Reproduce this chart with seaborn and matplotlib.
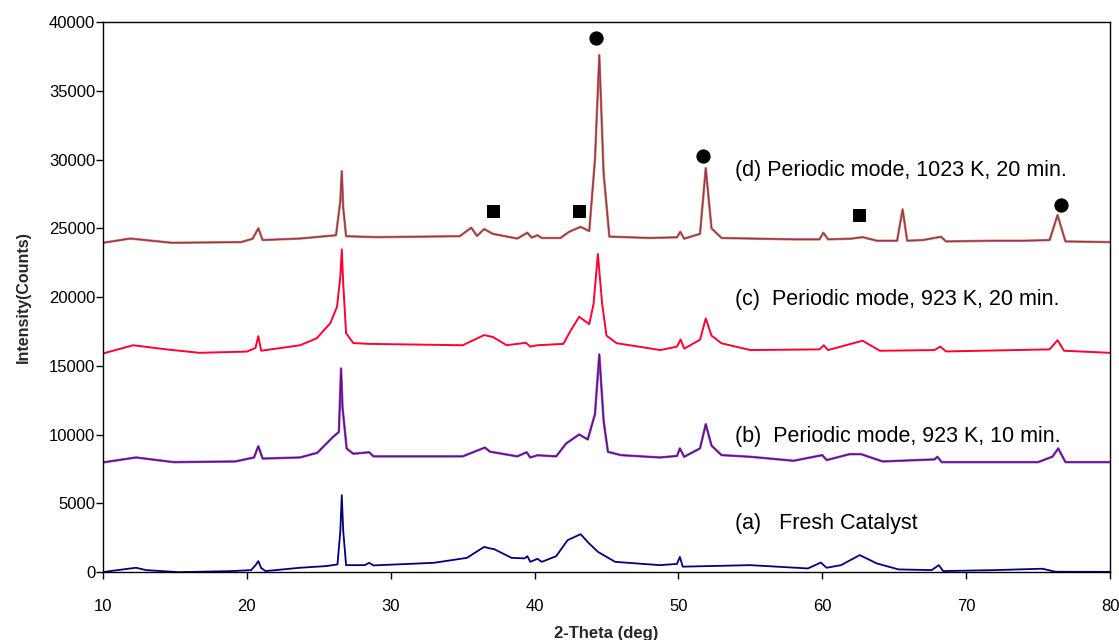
import numpy as np
import pandas as pd
import matplotlib
matplotlib.use("Agg")
import matplotlib.pyplot as plt
import seaborn as sns

# ---------------- data ----------------
a_x = [10.0, 10.5, 12.3, 13.0, 15.3, 19.0, 20.3, 20.6, 20.8, 21.0, 21.3, 23.7, 25.5, 26.3, 26.5,
       26.6, 26.7, 26.9, 28.2, 28.5, 28.8, 33.0, 35.3, 36.5, 36.8, 37.2, 38.4, 39.3, 39.5, 39.7,
       40.2, 40.5, 41.5, 42.3, 43.2, 43.8, 44.4, 45.6, 48.7, 49.9, 50.1, 50.3, 55.0, 59.0, 59.9,
       60.1, 60.3, 61.3, 62.6, 63.8, 65.3, 67.6, 68.1, 68.4, 72.0, 75.3, 76.2, 80.0]
a_y = [0, 80, 320, 150, 0, 80, 150, 500, 800, 300, 80, 320, 440, 560, 3000,
       5600, 3000, 510, 510, 680, 490, 680, 1040, 1840, 1750, 1670, 1040, 1000, 1160, 750,
       970, 750, 1160, 2330, 2760, 2080, 1480, 750, 510, 600, 1110, 400, 510, 270, 700,
       500, 320, 510, 1240, 630, 200, 150, 510, 80, 150, 250, 30, 20]

b_x = [10.0, 12.3, 14.9, 19.2, 20.5, 20.8, 21.1, 23.7, 24.9, 26.0, 26.4, 26.55, 26.65, 26.94,
       27.4, 28.5, 28.8, 35.0, 36.55, 36.9, 38.8, 39.45, 39.7, 40.2, 41.5, 42.2, 43.1, 43.7,
       44.2, 44.5, 44.8, 45.1, 46.0, 48.7, 49.9, 50.1, 50.4, 51.5, 51.9, 52.3, 53.0, 55.0,
       58.0, 60.0, 60.3, 61.9, 62.7, 63.2, 64.2, 67.8, 68.0, 68.3, 75.0, 76.0, 76.4, 76.9, 80.0]
b_y = [7980, 8340, 8000, 8050, 8340, 9160, 8260, 8340, 8680, 9840, 10200, 14810, 12000, 8990,
       8610, 8720, 8420, 8420, 9060, 8760, 8420, 8720, 8340, 8500, 8420, 9360, 10010, 9650,
       11500, 15830, 11000, 8750, 8510, 8340, 8450, 9000, 8390, 9000, 10760, 9200, 8510, 8390,
       8100, 8510, 8150, 8580, 8580, 8400, 8050, 8200, 8390, 8000, 8000, 8400, 9000, 8000, 8000]

c_x = [10.0, 12.1, 14.4, 16.7, 20.0, 20.6, 20.8, 21.0, 23.7, 24.85, 25.8, 26.27, 26.5, 26.6,
       26.7, 26.9, 27.4, 28.5, 35.0, 36.5, 37.1, 38.06, 39.4, 39.7, 40.2, 42.0, 42.5, 43.1, 43.8,
       44.1, 44.4, 44.7, 45.0, 45.7, 48.75, 49.9, 50.15, 50.4, 51.5, 51.9, 52.3, 53.0, 55.0,
       59.8, 60.1, 60.4, 62.8, 64.0, 67.8, 68.2, 68.6, 75.8, 76.35, 76.8, 80.0]
c_y = [15900, 16500, 16200, 15950, 16040, 16300, 17160, 16100, 16500, 17000, 18100, 19300, 21500, 23470,
       21000, 17380, 16660, 16600, 16500, 17240, 17100, 16500, 16680, 16400, 16500, 16600, 17550, 18570, 18040,
       19500, 23130, 19500, 17200, 16650, 16150, 16400, 16920, 16250, 16900, 18450, 17200, 16640, 16150,
       16200, 16500, 16150, 16830, 16100, 16150, 16400, 16050, 16200, 16870, 16100, 15950]

d_x = [10.0, 11.9, 14.8, 19.6, 20.4, 20.8, 21.1, 23.7, 26.2, 26.5, 26.6, 26.7, 26.9, 29.0, 34.8,
       35.6, 36.0, 36.5, 37.1, 38.8, 39.5, 39.8, 40.2, 40.5, 41.8, 42.4, 43.2, 43.8, 44.2, 44.5,
       44.8, 45.2, 48.0, 49.9, 50.13, 50.4, 51.5, 51.9, 52.3, 53.0, 58.0, 59.8, 60.07, 60.4,
       62.0, 62.8, 63.8, 65.2, 65.58, 65.9, 67.0, 68.25, 68.6, 71.9, 74.0, 75.8, 76.35, 76.9, 80.0]
d_y = [23950, 24260, 23950, 24000, 24240, 25000, 24150, 24260, 24500, 27000, 29160, 26500, 24430, 24360, 24430,
       25050, 24450, 24950, 24600, 24260, 24680, 24330, 24500, 24300, 24300, 24750, 25110, 24800, 30000, 37600,
       29000, 24400, 24300, 24350, 24750, 24250, 24600, 29380, 25000, 24300, 24200, 24200, 24680, 24200,
       24250, 24360, 24100, 24100, 26380, 24100, 24150, 24390, 24050, 24100, 24100, 24150, 25960, 24050, 24000]

circle_x = [44.3, 51.7, 76.6]
circle_y = [38860, 30280, 26690]
square_x = [37.1, 43.1, 62.55]
square_y = [26280, 26280, 25960]

labels = ["(a)   Fresh Catalyst",
          "(b)  Periodic mode, 923 K, 10 min.",
          "(c)  Periodic mode, 923 K, 20 min.",
          "(d) Periodic mode, 1023 K, 20 min."]
label_x = [53.9, 53.9, 53.9, 53.9]
label_y = [3560, 9890, 19850, 29240]

x_ticks = [10, 20, 30, 40, 50, 60, 70, 80]
y_ticks = [0, 5000, 10000, 15000, 20000, 25000, 30000, 35000, 40000]

# ---------------- plotting ----------------
sns.set_style("white")
plt.rcParams['font.family'] = ['Liberation Sans', 'DejaVu Sans']

fig = plt.figure(figsize=(11.19, 6.4), dpi=100)
ax = fig.add_axes([0.092, 0.106, 0.9, 0.8595])

df_a = pd.DataFrame({"x": a_x, "y": a_y})
df_b = pd.DataFrame({"x": b_x, "y": b_y})
df_c = pd.DataFrame({"x": c_x, "y": c_y})
df_d = pd.DataFrame({"x": d_x, "y": d_y})

sns.lineplot(data=df_a, x="x", y="y", ax=ax, color="#000080", lw=1.3, sort=False, estimator=None)
sns.lineplot(data=df_b, x="x", y="y", ax=ax, color="#6a6ad8", lw=1.8, sort=False, estimator=None)
sns.lineplot(data=df_b, x="x", y="y", ax=ax, color="#800080", lw=1.0, sort=False, estimator=None)
sns.lineplot(data=df_c, x="x", y="y", ax=ax, color="#FF0033", lw=1.4, sort=False, estimator=None)
sns.lineplot(data=df_d, x="x", y="y", ax=ax, color="#d08a4a", lw=1.8, sort=False, estimator=None)
sns.lineplot(data=df_d, x="x", y="y", ax=ax, color="#993366", lw=1.0, sort=False, estimator=None)

sns.scatterplot(x=circle_x, y=circle_y, ax=ax, marker="o", s=90, color="black", edgecolor="black", zorder=5)
sns.scatterplot(x=square_x, y=square_y, ax=ax, marker="s", s=80, color="black", edgecolor="black", zorder=5)

for t, tx, ty in zip(labels, label_x, label_y):
    ax.text(tx, ty, t, fontsize=15.5, ha="left", va="center", color="black")

ax.set_xlim(10, 80)
ax.set_ylim(0, 40000)
ax.set_xticks(x_ticks)
ax.set_yticks(y_ticks)
ax.tick_params(axis="both", direction="out", length=5, width=1, labelsize=12,
               bottom=True, left=True, colors="black")
ax.tick_params(axis="x", pad=14)
ax.tick_params(axis="y", pad=0.5)
ax.set_xlabel("2-Theta (deg)", fontsize=12, fontweight="bold", labelpad=9)
ax.set_ylabel("Intensity(Counts)", fontsize=11.5, fontweight="bold", labelpad=13)
for s in ax.spines.values():
    s.set_visible(True)
    s.set_color("black")
    s.set_linewidth(1.0)

fig.savefig("out.png", dpi=100)
